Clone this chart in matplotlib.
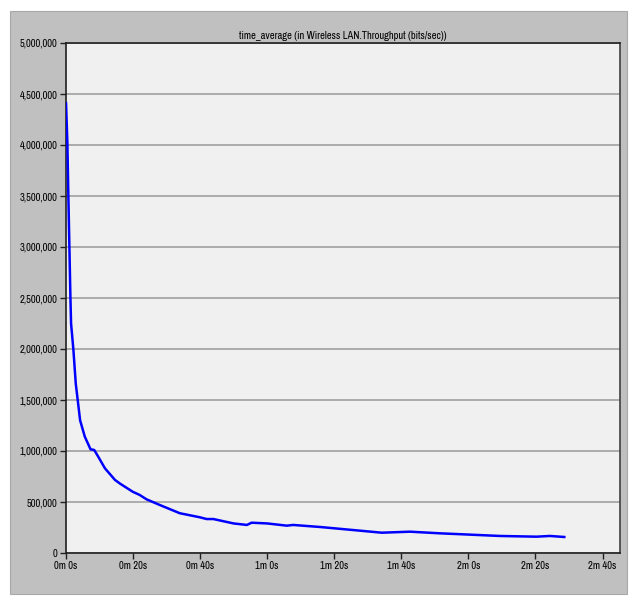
import matplotlib
matplotlib.use("Agg")
import matplotlib.pyplot as plt
from matplotlib.patches import Rectangle
from matplotlib.ticker import FuncFormatter
from matplotlib import font_manager as fm

# Data (time in seconds, throughput in bits/sec)
time_s = [0.1, 0.5, 0.8, 1.1, 1.4, 1.6, 2.3, 3.0, 4.3, 5.7, 7.4, 8.5, 9.7, 11.7,
          14.7, 16.2, 20.0, 22.0, 24.1, 28.1, 34.0, 40.0, 42.0, 44.0, 50.0, 54.0,
          55.4, 60.0, 65.9, 67.8, 75.8, 85.7, 94.2, 102.6, 111.5, 120.5, 129.4,
          140.3, 144.3, 148.6]
throughput = [4410000, 4020000, 3490000, 3000000, 2510000, 2250000, 1990000, 1660000,
              1300000, 1140000, 1017000, 1010000, 944000, 830000, 716000, 680000,
              600000, 570000, 526000, 470000, 390000, 350000, 333000, 333000, 290000,
              275000, 297000, 290000, 268000, 275000, 255000, 225000, 199000, 209000,
              193000, 180000, 167000, 160000, 167000, 157000]
y_ticks = [0, 500000, 1000000, 1500000, 2000000, 2500000, 3000000, 3500000,
           4000000, 4500000, 5000000]
x_ticks = [0, 20, 40, 60, 80, 100, 120, 140, 160]
title = "time_average (in Wireless LAN.Throughput (bits/sec))"

# Prefer a regular-weight condensed face if one is installed
cond = None
for f in fm.fontManager.ttflist:
    regular = f.weight in (400, "normal", "regular") and f.style == "normal"
    narrow = ("Narrow" in f.name or f.stretch in ("condensed", "semi-condensed")
              or "Condensed" in f.fname)
    low = f.fname.lower()
    if regular and narrow and "bold" not in low and "oblique" not in low and "italic" not in low:
        cond = f
        if "Narrow" in f.name:
            break
if cond is not None:
    fp = fm.FontProperties(fname=cond.fname, size=7.6)
else:
    fp = fm.FontProperties(family="Liberation Sans", size=7.3)

W, H = 633, 596
fig = plt.figure(figsize=(W / 100, H / 100), dpi=100)
fig.patch.set_facecolor("white")

# Gray panel
panel = Rectangle((10 / W, 1 - 594 / H), (627 - 10) / W, (594 - 11) / H,
                  transform=fig.transFigure, facecolor="#c0c0c0",
                  edgecolor="#a8a8a8", linewidth=0.8, zorder=-5)
fig.add_artist(panel)

ax = fig.add_axes([65.7 / W, 1 - 553 / H, (620 - 65.7) / W, (553 - 43) / H])
ax.set_zorder(1)
ax.set_facecolor("#f0f0f0")

ax.plot(time_s, throughput, color="#0000ff", linewidth=1.8, zorder=3)

ax.set_xlim(0, 165.2)
ax.set_ylim(0, 5000000)
ax.set_yticks(y_ticks)
ax.set_xticks(x_ticks)
ax.yaxis.set_major_formatter(FuncFormatter(lambda v, p: "0" if v == 0 else f"{int(v):,}"))
ax.xaxis.set_major_formatter(FuncFormatter(lambda v, p: f"{int(v)//60}m {int(v)%60}s"))
ax.grid(axis="y", color="#a0a0a0", linewidth=1.2)
ax.grid(axis="x", visible=False)
ax.tick_params(axis="both", direction="out", length=4, width=1, color="#202020",
               labelcolor="#000000", pad=2)
for lab in ax.get_xticklabels() + ax.get_yticklabels():
    lab.set_fontproperties(fp)

for side in ["left", "bottom", "top"]:
    ax.spines[side].set_color("#202020")
    ax.spines[side].set_linewidth(1.2)
ax.spines["right"].set_color("#404040")
ax.spines["right"].set_linewidth(1.2)

ax.set_title(title, pad=3, fontproperties=fp)

fig.savefig("out.png", dpi=100, facecolor="white")
